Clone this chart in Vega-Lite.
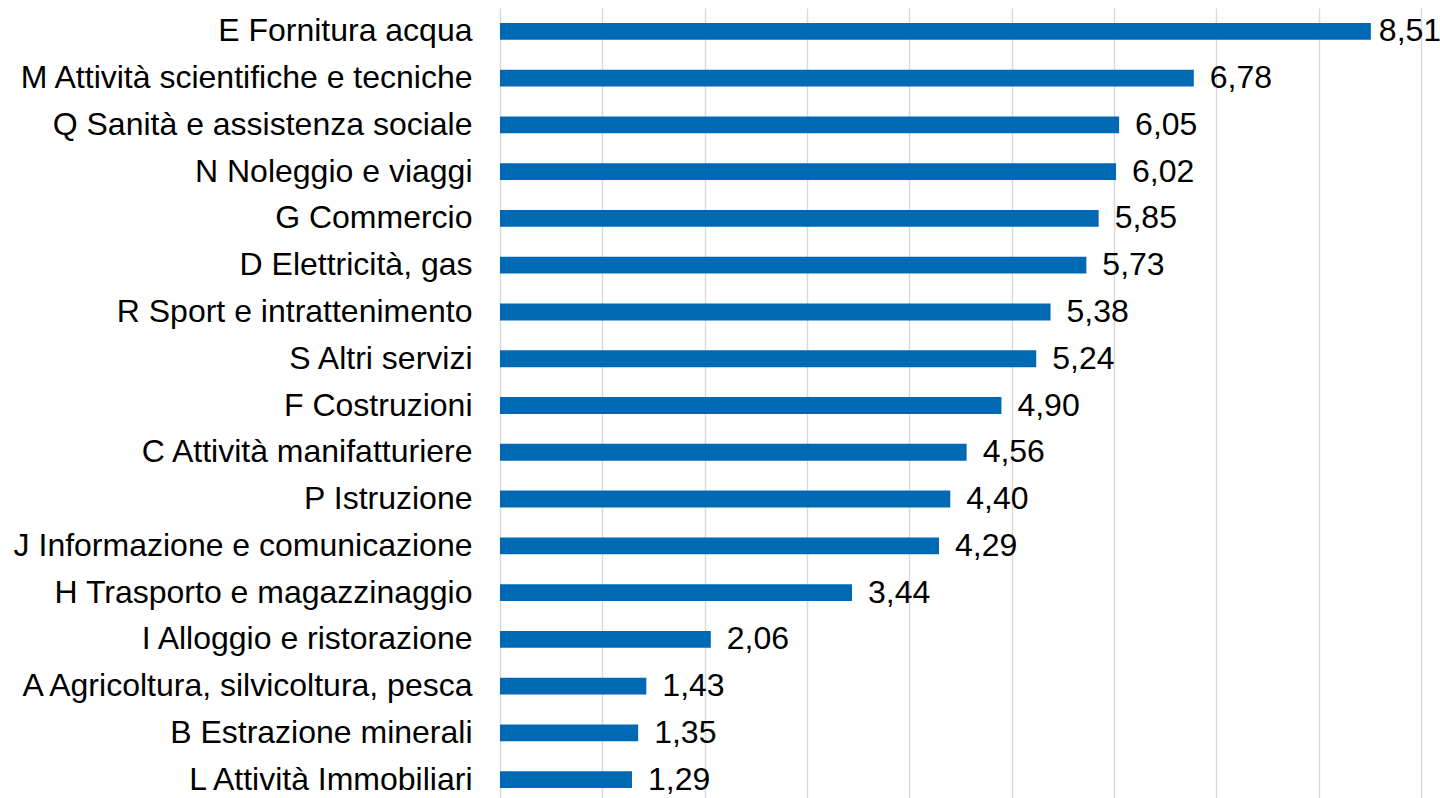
{
  "$schema": "https://vega.github.io/schema/vega-lite/v6.json",
  "autosize": {"type": "none"},
  "padding": {"left": 500, "top": 8, "right": 19, "bottom": 0},
  "width": 921,
  "height": 795,
  "background": "white",
  "config": {
    "view": {"stroke": null},
    "font": "Liberation Sans",
    "locale": {"number": {"decimal": ",", "thousands": ".", "grouping": [3], "currency": ["", " €"]}}
  },
  "data": {"values": [
    {"settore": "E Fornitura acqua", "valore": 8.51},
    {"settore": "M Attività scientifiche e tecniche", "valore": 6.78},
    {"settore": "Q Sanità e assistenza sociale", "valore": 6.05},
    {"settore": "N Noleggio e viaggi", "valore": 6.02},
    {"settore": "G Commercio", "valore": 5.85},
    {"settore": "D Elettricità, gas", "valore": 5.73},
    {"settore": "R Sport e intrattenimento", "valore": 5.38},
    {"settore": "S Altri servizi", "valore": 5.24},
    {"settore": "F Costruzioni", "valore": 4.90},
    {"settore": "C Attività manifatturiere", "valore": 4.56},
    {"settore": "P Istruzione", "valore": 4.40},
    {"settore": "J Informazione e comunicazione", "valore": 4.29},
    {"settore": "H Trasporto e magazzinaggio", "valore": 3.44},
    {"settore": "I Alloggio e ristorazione", "valore": 2.06},
    {"settore": "A Agricoltura, silvicoltura, pesca", "valore": 1.43},
    {"settore": "B Estrazione minerali", "valore": 1.35},
    {"settore": "L Attività Immobiliari", "valore": 1.29}
  ]},
  "encoding": {
    "y": {
      "field": "settore", "type": "nominal", "sort": null,
      "scale": {"paddingInner": 0.64, "paddingOuter": 0.32},
      "axis": {"title": null, "domain": false, "ticks": false, "labelPadding": 28, "labelFontSize": 32, "labelColor": "#000000", "labelFont": "Liberation Sans", "labelLimit": 600}
    },
    "x": {
      "field": "valore", "type": "quantitative",
      "scale": {"domain": [0, 9], "nice": false},
      "axis": {"title": null, "labels": false, "ticks": false, "domain": false, "values": [0, 1, 2, 3, 4, 5, 6, 7, 8, 9], "grid": true, "gridColor": "#d9d9d9", "gridWidth": 1.4}
    }
  },
  "layer": [
    {"mark": {"type": "bar", "color": "#0069B4"}},
    {
      "transform": [{"filter": "datum.valore < 8"}],
      "mark": {"type": "text", "align": "left", "baseline": "middle", "dx": 16, "fontSize": 32, "color": "#000000", "font": "Liberation Sans"},
      "encoding": {"text": {"field": "valore", "type": "quantitative", "format": ".2f"}}
    },
    {
      "transform": [{"filter": "datum.valore >= 8"}],
      "mark": {"type": "text", "align": "left", "baseline": "middle", "dx": 8, "fontSize": 32, "color": "#000000", "font": "Liberation Sans"},
      "encoding": {"text": {"field": "valore", "type": "quantitative", "format": ".2f"}}
    }
  ]
}
